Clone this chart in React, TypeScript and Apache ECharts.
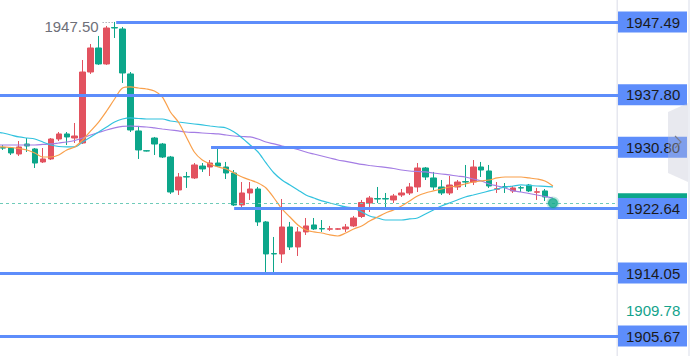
import React, { useEffect, useRef } from "react";
import * as echarts from "echarts";

// [open, close, low, high] per candle, index 0..68
const candles: number[][] = [
  [1930.76, 1930.70, 1930.45, 1931.11],
  [1930.71, 1930.05, 1929.78, 1930.85],
  [1929.91, 1930.85, 1929.65, 1931.64],
  [1931.24, 1930.98, 1930.18, 1932.04],
  [1930.58, 1928.71, 1928.05, 1930.71],
  [1928.85, 1929.25, 1928.71, 1930.71],
  [1929.25, 1931.91, 1929.11, 1932.04],
  [1931.91, 1932.58, 1931.64, 1932.84],
  [1932.58, 1932.18, 1931.11, 1932.84],
  [1932.04, 1932.31, 1931.38, 1934.04],
  [1931.38, 1940.83, 1931.24, 1942.43],
  [1940.83, 1944.03, 1940.57, 1944.56],
  [1944.03, 1941.90, 1941.77, 1945.63],
  [1941.90, 1946.69, 1941.77, 1946.96],
  [1946.75, 1946.69, 1945.36, 1947.50],
  [1946.56, 1940.70, 1939.37, 1946.83],
  [1940.57, 1933.11, 1932.84, 1940.83],
  [1932.98, 1930.45, 1929.25, 1933.51],
  [1930.35, 1930.31, 1930.25, 1930.40],
  [1932.04, 1931.24, 1929.78, 1932.18],
  [1931.24, 1929.51, 1929.38, 1931.38],
  [1929.51, 1924.85, 1924.59, 1929.65],
  [1925.12, 1926.85, 1924.45, 1927.38],
  [1926.90, 1926.85, 1925.39, 1927.52],
  [1926.72, 1928.45, 1926.58, 1928.71],
  [1928.31, 1927.92, 1927.52, 1928.71],
  [1928.18, 1928.71, 1926.98, 1929.11],
  [1928.71, 1928.31, 1928.18, 1930.71],
  [1928.18, 1927.38, 1926.58, 1928.85],
  [1927.38, 1923.12, 1922.99, 1927.78],
  [1923.12, 1924.72, 1922.72, 1926.18],
  [1924.72, 1925.25, 1923.79, 1926.18],
  [1925.25, 1920.86, 1920.33, 1925.52],
  [1920.86, 1916.60, 1914.20, 1920.99],
  [1916.65, 1916.60, 1914.07, 1918.86],
  [1916.60, 1920.19, 1915.40, 1923.92],
  [1920.19, 1917.53, 1917.13, 1920.86],
  [1917.53, 1919.53, 1916.33, 1920.19],
  [1919.53, 1920.33, 1919.13, 1921.39],
  [1920.46, 1919.93, 1919.79, 1921.39],
  [1919.98, 1919.93, 1919.53, 1921.12],
  [1919.90, 1919.95, 1919.66, 1920.33],
  [1919.90, 1919.95, 1919.80, 1920.05],
  [1919.93, 1920.19, 1919.53, 1920.59],
  [1920.33, 1921.39, 1920.19, 1921.66],
  [1921.59, 1923.45, 1921.39, 1923.79],
  [1923.39, 1924.05, 1922.19, 1924.32],
  [1923.97, 1923.92, 1923.39, 1925.52],
  [1923.97, 1923.92, 1922.85, 1924.72],
  [1923.79, 1924.32, 1923.39, 1924.59],
  [1924.45, 1924.72, 1924.19, 1925.25],
  [1924.72, 1925.52, 1924.45, 1926.05],
  [1925.52, 1928.05, 1924.85, 1928.71],
  [1928.05, 1926.85, 1926.45, 1928.18],
  [1926.72, 1925.52, 1925.12, 1927.52],
  [1925.52, 1924.72, 1924.45, 1926.45],
  [1924.72, 1925.78, 1924.45, 1926.98],
  [1925.52, 1926.18, 1925.12, 1926.45],
  [1926.23, 1926.18, 1925.52, 1928.45],
  [1926.18, 1928.18, 1925.78, 1929.11],
  [1928.18, 1927.78, 1926.85, 1928.85],
  [1927.65, 1925.65, 1925.39, 1928.45],
  [1925.22, 1925.28, 1924.72, 1926.18],
  [1925.55, 1925.52, 1924.72, 1926.05],
  [1924.99, 1925.39, 1924.72, 1925.65],
  [1925.42, 1925.39, 1924.85, 1925.65],
  [1925.78, 1924.99, 1924.85, 1925.92],
  [1924.82, 1924.88, 1923.79, 1925.39],
  [1924.99, 1924.19, 1923.65, 1925.25],
];

// moving averages, index -1..69
const MA_START = -1;
const maFast: number[] = [
  1930.85, 1930.85, 1930.78, 1930.65, 1930.45, 1930.05, 1929.51, 1929.51, 1929.78, 1930.45,
  1930.85, 1931.78, 1932.98, 1934.17, 1935.64, 1937.24, 1938.70, 1938.84, 1938.70, 1938.57,
  1938.30, 1937.50, 1935.51, 1934.17, 1932.18, 1930.18, 1929.11, 1928.58, 1928.18, 1927.92,
  1927.38, 1926.85, 1926.45, 1926.05, 1925.39, 1924.05, 1922.59, 1921.52, 1920.46, 1919.79,
  1919.53, 1919.39, 1919.13, 1918.99, 1919.39, 1919.93, 1920.33, 1920.99, 1921.52, 1922.06,
  1922.46, 1922.99, 1923.66, 1924.32, 1924.72, 1924.99, 1925.25, 1925.52, 1925.65, 1925.92,
  1926.18, 1926.32, 1926.45, 1926.72, 1926.85, 1926.85, 1926.85, 1926.72, 1926.58, 1926.32,
  1925.65,
];
const maMid: number[] = [
  1932.84, 1932.71, 1932.44, 1932.18, 1932.04, 1931.91, 1931.51, 1931.11, 1930.91, 1930.85,
  1930.85, 1931.51, 1932.18, 1932.84, 1933.51, 1934.17, 1934.57, 1934.71, 1934.64, 1934.57,
  1934.57, 1934.57, 1934.31, 1934.17, 1934.04, 1933.91, 1933.78, 1933.64, 1933.51, 1933.38,
  1932.84, 1932.04, 1931.11, 1930.18, 1928.72, 1927.38, 1926.45, 1925.79, 1925.12, 1924.45,
  1924.05, 1923.66, 1923.39, 1923.12, 1922.86, 1922.72, 1922.19, 1921.66, 1921.39, 1921.12,
  1921.12, 1921.12, 1921.26, 1921.39, 1921.92, 1922.46, 1922.99, 1923.39, 1923.79, 1924.19,
  1924.45, 1924.72, 1924.99, 1925.25, 1925.52, 1925.65, 1925.79, 1925.72, 1925.65, 1925.59,
  1925.52,
];
const maSlow: number[] = [
  1931.11, 1931.11, 1931.11, 1931.11, 1931.11, 1931.11, 1931.18, 1931.25, 1931.38, 1931.51,
  1931.71, 1932.04, 1932.44, 1932.78, 1933.11, 1933.38, 1933.58, 1933.64, 1933.58, 1933.51,
  1933.38, 1933.24, 1933.11, 1932.98, 1932.84, 1932.78, 1932.71, 1932.64, 1932.58, 1932.44,
  1932.31, 1932.24, 1932.18, 1931.91, 1931.51, 1931.25, 1930.98, 1930.78, 1930.51, 1930.18,
  1929.91, 1929.65, 1929.38, 1929.11, 1928.92, 1928.72, 1928.52, 1928.38, 1928.25, 1928.12,
  1927.98, 1927.78, 1927.65, 1927.58, 1927.52, 1927.38, 1927.25, 1927.12, 1926.98, 1926.85,
  1926.58, 1926.32, 1925.92, 1925.65, 1925.39, 1924.99, 1924.85, 1924.65, 1924.45, 1924.25,
  1924.05,
];

const levels: number[] = [1947.49, 1937.8, 1930.8, 1922.64, 1914.05, 1905.67];
const levelStarts: (number | null)[] = [14.2, null, 26.1, 29.0, null, null];
const lastPrice = 1923.3;
const lastPoint = [69, 1923.39];
const highValue = 1947.5;
const highSpan = [12.5, 14.0];
const sideLabel = 1909.78;

const X_MIN = -0.376;
const X_MAX = 77.16;
const Y_MIN = 1903.01;
const Y_MAX = 1950.42;

const UP = "#e2525f";
const DOWN = "#0ca68a";
const BLUE = "#5d8dfb";

export default function App() {
  const ref = useRef<HTMLDivElement>(null);
  useEffect(() => {
    if (!ref.current) return;
    const chart = echarts.init(ref.current, undefined, { renderer: "svg" });
    const boxLabel = {
      show: true,
      position: "end",
      distance: 0,
      formatter: (p: any) => p.name,
      backgroundColor: BLUE,
      color: "#1b1b1b",
      fontFamily: "Liberation Sans",
      fontSize: 15,
      lineHeight: 15,
      padding: [3, 8, 3, 8],
      width: 53,
    };
    const blueLine = { color: BLUE, width: 2.8, type: "solid" };
    const mlData: any[] = [
      {
        name: "",
        yAxis: lastPrice,
        lineStyle: { color: "#6fcbb9", width: 1.1, type: [3, 3] },
        label: { ...boxLabel, formatter: () => " ", backgroundColor: DOWN, color: "#ffffff" },
      },
      {
        name: sideLabel.toFixed(2),
        yAxis: sideLabel,
        lineStyle: { color: "rgba(0,0,0,0)", width: 0 },
        label: { ...boxLabel, backgroundColor: "transparent", color: "#13a38c", offset: [0, 5] },
      },
      [
        {
          name: highValue.toFixed(2),
          coord: [highSpan[0], highValue],
          lineStyle: { color: "#8a8d99", width: 1, type: [1, 2] },
          label: {
            show: true,
            position: "start",
            distance: 4,
            formatter: (p: any) => p.name,
            color: "#6e7079",
            fontFamily: "Liberation Sans",
            fontSize: 15,
            offset: [0, 5],
          },
        },
        { coord: [highSpan[1], highValue] },
      ],
    ];
    levels.forEach((v, i) => {
      const s = levelStarts[i];
      if (s == null) {
        mlData.push({ name: v.toFixed(2), yAxis: v, lineStyle: blueLine, label: boxLabel });
      } else {
        mlData.push([
          { name: v.toFixed(2), coord: [s, v], lineStyle: blueLine, label: boxLabel },
          { coord: [X_MAX - 0.001, v] },
        ]);
      }
    });

    const toLine = (arr: number[]) => arr.map((v, k) => [MA_START + k, v]);

    chart.setOption({
      animation: false,
      grid: { left: 0, right: 72, top: 0, bottom: 0 },
      xAxis: { type: "value", min: X_MIN, max: X_MAX, show: false },
      yAxis: { type: "value", min: Y_MIN, max: Y_MAX, show: false, scale: true },
      graphic: [
        { type: "rect", shape: { x: 616.5, y: 0, width: 1.5, height: 356 }, style: { fill: "#e6e7ef" }, silent: true },
        { type: "rect", shape: { x: 688, y: 0, width: 2, height: 356 }, style: { fill: "#eceef4" }, silent: true },
        {
          type: "polygon",
          shape: { points: [[668, 112], [688, 103], [688, 182], [668, 173]] },
          style: { fill: "rgba(190,192,210,0.35)" },
          z: 100,
          silent: true,
        },
        {
          type: "polyline",
          shape: { points: [[675, 136], [681, 142], [675, 148]] },
          style: { stroke: "#7b7e8c", lineWidth: 1.2, fill: "none" },
          z: 101,
          silent: true,
        },
      ],
      series: [
        {
          type: "candlestick",
          clip: false,
          barWidth: 6,
          data: candles.map((c, i) => [i, c[0], c[1], c[2], c[3]]),
          itemStyle: {
            color: UP,
            color0: DOWN,
            borderColor: UP,
            borderColor0: DOWN,
            borderWidth: 1,
          },
          markLine: {
            silent: true,
            symbol: ["none", "none"],
            animation: false,
            data: mlData,
          },
        },
        {
          type: "line",
          data: toLine(maSlow),
          showSymbol: false,
          smooth: 0.3,
          lineStyle: { color: "#a47de4", width: 1.2 },
          silent: true,
        },
        {
          type: "line",
          data: toLine(maMid),
          showSymbol: false,
          smooth: 0.3,
          lineStyle: { color: "#31c2de", width: 1.2 },
          silent: true,
        },
        {
          type: "line",
          data: toLine(maFast),
          showSymbol: false,
          smooth: 0.3,
          lineStyle: { color: "#f9a04b", width: 1.2 },
          silent: true,
        },
        {
          type: "scatter",
          data: [lastPoint],
          symbolSize: 10,
          itemStyle: { color: DOWN, borderColor: "rgba(12,166,138,0.3)", borderWidth: 3 },
          silent: true,
          z: 5,
        },
      ],
    });
    return () => chart.dispose();
  }, []);
  return (
    <div
      ref={ref}
      style={{ position: "fixed", left: 0, top: 0, width: 690, height: 356, background: "#fff" }}
    />
  );
}
